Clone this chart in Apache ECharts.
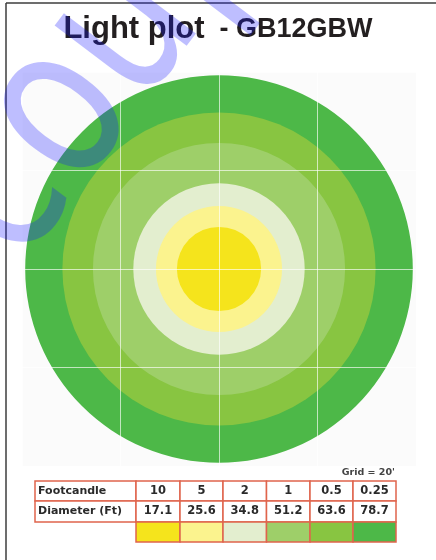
<!DOCTYPE html>
<html>
<head>
<meta charset="utf-8">
<script src="https://cdn.jsdelivr.net/npm/echarts@6/dist/echarts.min.js"></script>
<style>
  html, body { margin: 0; padding: 0; background: #fff; }
  #chart { width: 436px; height: 560px; }
</style>
</head>
<body>
<div id="chart"></div>
<script>
// light levels and the diameter (ft) each one reaches
const FOOTCANDLES = ['10', '5', '2', '1', '0.5', '0.25'];
const DIAMETERS = [17.1, 25.6, 34.8, 51.2, 63.6, 78.7];
const ZONE_COLORS = ['#f5e41c', '#fbf38e', '#e3eecf', '#9ecf69', '#88c541', '#4db848'];
const GRID_STEP = 20; // ft
const AXIS_EXTENT = 40;

const TABLE_X = [35, 136, 180, 223, 266.5, 310, 353, 396];
const TABLE_Y = [481, 501, 522, 542];
const TABLE_BORDER = '#e0644c';

function buildTable() {
  const els = [];
  const rows = [
    ['Footcandle', FOOTCANDLES],
    ['Diameter (Ft)', DIAMETERS.map((d) => d.toFixed(1))]
  ];
  rows.forEach(([label, values], r) => {
    const y0 = TABLE_Y[r];
    const h = TABLE_Y[r + 1] - y0;
    els.push({
      type: 'rect',
      shape: { x: TABLE_X[0], y: y0, width: TABLE_X[1] - TABLE_X[0], height: h },
      style: { fill: '#fff', stroke: TABLE_BORDER, lineWidth: 1.5 }
    });
    els.push({
      type: 'text',
      x: TABLE_X[0] + 3,
      y: y0 + h / 2,
      style: {
        text: label,
        font: 'bold 11px "DejaVu Sans"',
        fill: '#2a2a2a',
        align: 'left',
        verticalAlign: 'middle'
      }
    });
    values.forEach((v, i) => {
      const x0 = TABLE_X[i + 1];
      const w = TABLE_X[i + 2] - x0;
      els.push({
        type: 'rect',
        shape: { x: x0, y: y0, width: w, height: h },
        style: { fill: '#fff', stroke: TABLE_BORDER, lineWidth: 1.5 }
      });
      els.push({
        type: 'text',
        x: x0 + w / 2,
        y: y0 + h / 2,
        style: {
          text: v,
          font: 'bold 11.5px "DejaVu Sans"',
          fill: '#2a2a2a',
          align: 'center',
          verticalAlign: 'middle'
        }
      });
    });
  });
  // colour swatch row
  ZONE_COLORS.forEach((c, i) => {
    const x0 = TABLE_X[i + 1];
    els.push({
      type: 'rect',
      shape: { x: x0, y: TABLE_Y[2], width: TABLE_X[i + 2] - x0, height: TABLE_Y[3] - TABLE_Y[2] },
      style: { fill: c, stroke: TABLE_BORDER, lineWidth: 1.5 }
    });
  });
  els.push({
    type: 'text',
    x: 395,
    y: 473,
    style: {
      text: `Grid = ${GRID_STEP}'`,
      font: 'bold 9.5px "DejaVu Sans"',
      fill: '#444',
      align: 'right',
      verticalAlign: 'middle'
    }
  });
  return els;
}

const chart = echarts.init(document.getElementById('chart'), null, { renderer: 'canvas' });

// biggest ring first so the smaller ones sit on top
const circleData = DIAMETERS.map((d, i) => ({
  value: [0, 0, d],
  itemStyle: { color: ZONE_COLORS[i] }
})).reverse();

const axisCommon = {
  type: 'value',
  min: -AXIS_EXTENT,
  max: AXIS_EXTENT,
  interval: GRID_STEP,
  z: 5,
  axisLine: { show: false },
  axisTick: { show: false },
  axisLabel: { show: false },
  splitLine: { lineStyle: { color: 'rgba(255,255,255,0.65)', width: 1 } }
};

chart.setOption({
  animation: false,
  backgroundColor: '#fff',
  title: {
    text: '{a|Light plot}{b|  - GB12GBW}',
    left: 'center',
    top: 9,
    textStyle: {
      rich: {
        a: { fontSize: 31, fontWeight: 'bold', fontFamily: 'Liberation Sans', color: '#231f20' },
        b: { fontSize: 27, fontWeight: 'bold', fontFamily: 'Liberation Sans', color: '#231f20' }
      }
    }
  },
  grid: {
    left: 22,
    top: 72,
    width: 394,
    height: 394,
    show: true,
    backgroundColor: '#fbfbfb',
    borderWidth: 0
  },
  xAxis: axisCommon,
  yAxis: axisCommon,
  series: [
    {
      type: 'custom',
      coordinateSystem: 'cartesian2d',
      encode: { x: 0, y: 1 },
      clip: false,
      data: circleData,
      renderItem: (params, api) => {
        const c = api.coord([0, 0]);
        const r = api.size([api.value(2) / 2, 0])[0];
        return {
          type: 'circle',
          shape: { cx: c[0], cy: c[1], r },
          style: { fill: api.visual('color') }
        };
      }
    }
  ],
  graphic: [
    // page frame
    { type: 'line', shape: { x1: 6, y1: 3, x2: 436, y2: 3 }, style: { stroke: '#3c3c3c', lineWidth: 1.5 } },
    { type: 'line', shape: { x1: 6, y1: 3, x2: 6, y2: 560 }, style: { stroke: '#3c3c3c', lineWidth: 1.5 } },
    ...buildTable(),
    // watermark
    {
      type: 'text',
      x: -25,
      y: 234,
      scaleX: 0.8,
      rotation: (53 * Math.PI) / 180,
      z: 100,
      style: {
        text: 'coupon',
        font: '215px "DejaVu Sans"',
        fill: 'rgba(20,20,255,0.28)',
        align: 'left',
        verticalAlign: 'middle'
      }
    }
  ]
});
</script>
</body>
</html>
